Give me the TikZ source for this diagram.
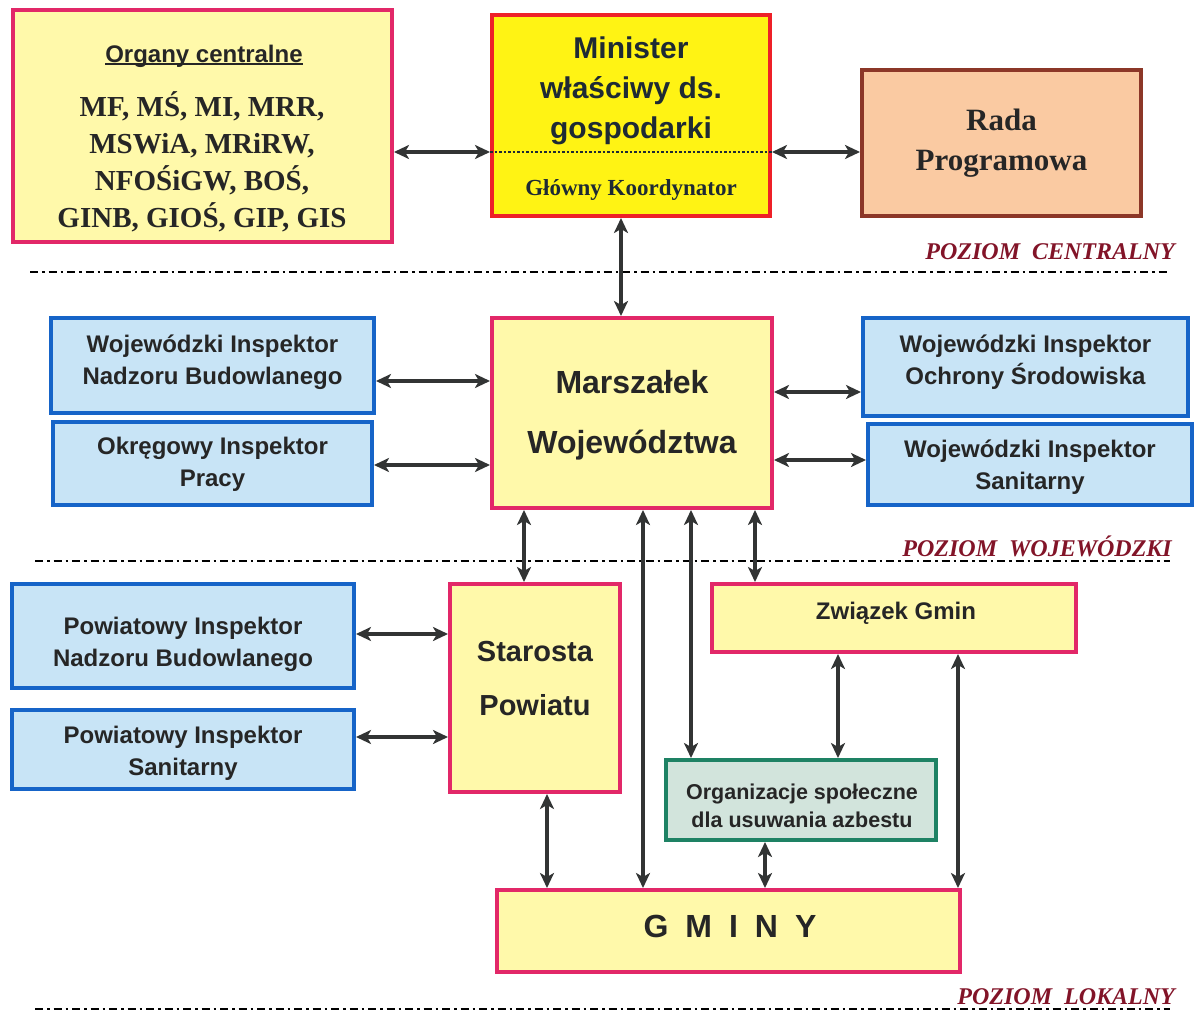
\documentclass[tikz,border=0pt]{standalone}
\usepackage{fontspec}
\setmainfont{Liberation Serif}
\setsansfont{Liberation Sans}
\usetikzlibrary{arrows.meta}
\definecolor{pinkb}{RGB}{226,40,104}
\definecolor{lyell}{RGB}{255,249,170}
\definecolor{redb}{RGB}{238,32,40}
\definecolor{myell}{RGB}{255,243,20}
\definecolor{blueb}{RGB}{22,100,200}
\definecolor{lblue}{RGB}{200,228,246}
\definecolor{brownb}{RGB}{140,55,40}
\definecolor{orangef}{RGB}{250,202,162}
\definecolor{greenb}{RGB}{30,130,100}
\definecolor{greenf}{RGB}{210,228,220}
\definecolor{lvlc}{RGB}{130,20,40}
\definecolor{txt}{RGB}{38,38,38}
\definecolor{mtxt}{RGB}{30,42,52}
\definecolor{arrc}{RGB}{50,52,52}
\newcommand\ulx[1]{\setbox0\hbox{#1}\rlap{\rule[-3pt]{\wd0}{2.2pt}}\box0}
\begin{document}
\begin{tikzpicture}[x=1pt,y=-1pt,
  box/.style={draw, line width=4pt, inner sep=0pt},
  pinkbox/.style={box, draw=pinkb, fill=lyell},
  bluebox/.style={box, draw=blueb, fill=lblue},
  sanst/.style={font=\sffamily\bfseries\fontsize{24}{32}\selectfont, align=center, text=txt},
  arr/.style={draw=arrc, line width=3.5pt, {Stealth[length=15pt,width=14pt,inset=4pt]}-{Stealth[length=15pt,width=14pt,inset=4pt]}},
  levelline/.style={line width=2.6pt, dash pattern=on 8pt off 4pt on 2.5pt off 4pt},
  lvl/.style={font=\rmfamily\bfseries\itshape\fontsize{24}{26}\selectfont, text=lvlc, anchor=base east, inner sep=0pt}]
\useasboundingbox (0,0) rectangle (1195,1011);

% central level
\node[pinkbox, minimum width=379pt, minimum height=232pt] (org) at (202.5,126) {};
\node[font=\sffamily\bfseries\fontsize{24}{26}\selectfont, text=txt] (orgh) at (204,56) {\ulx{Organy centralne}};
\node[font=\rmfamily\bfseries\fontsize{29}{37}\selectfont, align=center, text=txt] (orgb) at (202,162) {MF, MŚ, MI, MRR,\\MSWiA, MRiRW,\\NFOŚiGW, BOŚ,\\GINB, GIOŚ, GIP, GIS};

\node[box, draw=redb, fill=myell, minimum width=278pt, minimum height=201pt] (min) at (631,115.5) {};
\node[font=\sffamily\bfseries\fontsize{30}{40}\selectfont, align=center, text=mtxt] (mint) at (631,91) {Minister\\właściwy ds.\\gospodarki};
\node[font=\rmfamily\bfseries\fontsize{23}{26}\selectfont, text=mtxt] (koord) at (631,190) {Główny Koordynator};
\draw[dotted, line width=2.5pt, draw=mtxt] (min.west |- 0,152) -- (min.east |- 0,152);

\node[box, draw=brownb, fill=orangef, minimum width=279pt, minimum height=146pt, font=\rmfamily\bfseries\fontsize{31}{40}\selectfont, align=center, text=txt] (rada) at (1001.5,143) {Rada\\Programowa};

\node[lvl] (pc) at (1175,260) {POZIOM\ \ CENTRALNY};
\coordinate (l1a) at (30,272); \coordinate (l1b) at (1167,272);
\draw[levelline] (l1a) -- (l1b);

% voivodeship level
\node[pinkbox, minimum width=280pt, minimum height=190pt] (marsz) at (632,413) {};
\node[font=\sffamily\bfseries\fontsize{32}{60}\selectfont, align=center, text=txt] (marszt) at (632,415) {Marszałek\\Województwa};

\node[bluebox, minimum width=323pt, minimum height=95pt] (winb) at (212.5,365.5) {};
\node[sanst] (winbt) at (212.5,362) {Wojewódzki Inspektor\\Nadzoru Budowlanego};
\node[bluebox, minimum width=319pt, minimum height=83pt] (oip) at (212.5,463.5) {};
\node[sanst] (oipt) at (212.5,464) {Okręgowy Inspektor\\Pracy};
\node[bluebox, minimum width=325pt, minimum height=98pt] (wios) at (1025.5,367) {};
\node[sanst] (wiost) at (1025.5,362) {Wojewódzki Inspektor\\Ochrony Środowiska};
\node[bluebox, minimum width=324pt, minimum height=81pt] (wis) at (1030,464.5) {};
\node[sanst] (wist) at (1030,467) {Wojewódzki Inspektor\\Sanitarny};

\node[lvl] (pw) at (1172,556) {POZIOM\ \ WOJEWÓDZKI};
\coordinate (l2a) at (35,561); \coordinate (l2b) at (1170,561);
\draw[levelline] (l2a) -- (l2b);

% local level
\node[pinkbox, minimum width=170pt, minimum height=208pt] (star) at (535,688) {};
\node[font=\sffamily\bfseries\fontsize{29}{54}\selectfont, align=center, text=txt] (start) at (535,679) {Starosta\\Powiatu};
\node[bluebox, minimum width=342pt, minimum height=104pt] (pinb) at (183,636) {};
\node[sanst] (pinbt) at (183,644) {Powiatowy Inspektor\\Nadzoru Budowlanego};
\node[bluebox, minimum width=342pt, minimum height=79pt] (pis) at (183,749.5) {};
\node[sanst] (pist) at (183,753) {Powiatowy Inspektor\\Sanitarny};
\node[pinkbox, minimum width=364pt, minimum height=68pt] (zg) at (894,618) {};
\node[sanst] (zgt) at (896,613) {Związek Gmin};
\node[box, draw=greenb, fill=greenf, minimum width=270pt, minimum height=80pt] (orgs) at (801,800) {};
\node[sanst, font=\sffamily\bfseries\fontsize{21.5}{28}\selectfont] (orgst) at (802,806) {Organizacje społeczne\\dla usuwania azbestu};
\node[pinkbox, minimum width=463pt, minimum height=82pt] (gminy) at (728.5,931) {};
\node[font=\sffamily\bfseries\fontsize{32}{34}\selectfont, text=txt] (gminyt) at (730,926) {{\spaceskip=17pt G M I N Y}};

\node[lvl] (pl) at (1175,1004) {POZIOM\ \ LOKALNY};
\coordinate (l3a) at (35,1009); \coordinate (l3b) at (1170,1009);
\draw[levelline] (l3a) -- (l3b);

% connectors
\draw[arr] (org.east |- 0,152) -- (min.west |- 0,152);
\draw[arr] (min.east |- 0,152) -- (rada.west |- 0,152);
\draw[arr] (min.south -| 621,0) -- (marsz.north -| 621,0);
\draw[arr] (winb.east |- 0,381) -- (marsz.west |- 0,381);
\draw[arr] (oip.east |- 0,465) -- (marsz.west |- 0,465);
\draw[arr] (marsz.east |- 0,392) -- (wios.west |- 0,392);
\draw[arr] (marsz.east |- 0,460) -- (wis.west |- 0,460);
\draw[arr] (pinb.east |- 0,634) -- (star.west |- 0,634);
\draw[arr] (pis.east |- 0,737) -- (star.west |- 0,737);
\draw[arr] (marsz.south -| 524,0) -- (star.north -| 524,0);
\draw[arr] (marsz.south -| 643,0) -- (gminy.north -| 643,0);
\draw[arr] (marsz.south -| 691,0) -- (orgs.north -| 691,0);
\draw[arr] (marsz.south -| 755,0) -- (zg.north -| 755,0);
\draw[arr] (star.south -| 547,0) -- (gminy.north -| 547,0);
\draw[arr] (zg.south -| 838,0) -- (orgs.north -| 838,0);
\draw[arr] (zg.south -| 958,0) -- (gminy.north -| 958,0);
\draw[arr] (orgs.south -| 765,0) -- (gminy.north -| 765,0);
\end{tikzpicture}
\end{document}
